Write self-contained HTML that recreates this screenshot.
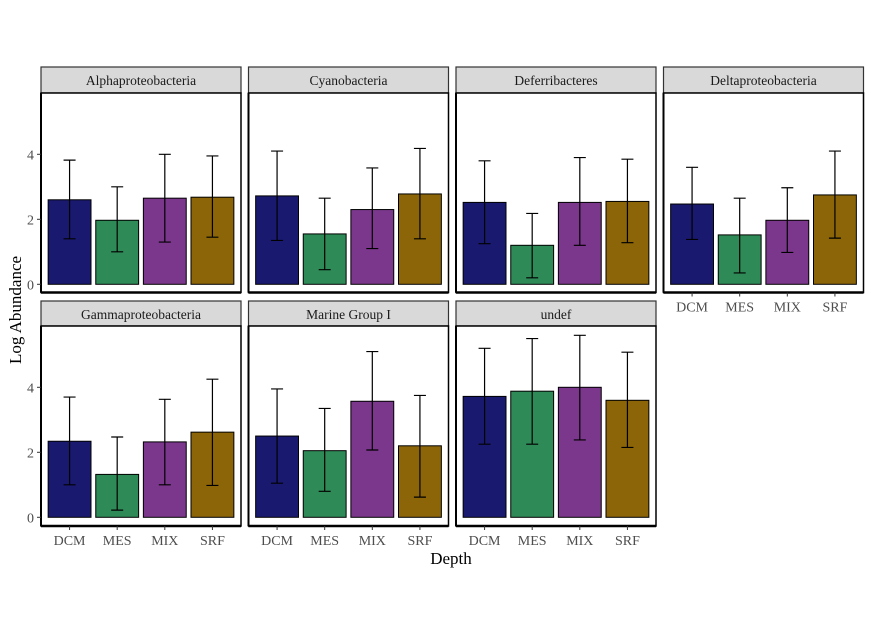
<!DOCTYPE html>
<html><head><meta charset="utf-8"><style>
body{margin:0;background:#fff}
svg{display:block;font-family:"Liberation Serif",serif}
</style></head><body>
<svg id="chart" width="871" height="635" xmlns="http://www.w3.org/2000/svg">
<rect width="871" height="635" fill="#fff"/>
<text x="0" y="0" transform="translate(21,310) rotate(-90)" text-anchor="middle" font-size="17">Log Abundance</text>
<text x="451" y="564" text-anchor="middle" font-size="17">Depth</text>
</svg>
<script>
const panels = ["Alphaproteobacteria","Cyanobacteria","Deferribacteres","Deltaproteobacteria","Gammaproteobacteria","Marine Group I","undef"];
const categories = ["DCM","MES","MIX","SRF"];
const means = [[2.6,1.97,2.65,2.68],[2.72,1.55,2.3,2.78],[2.52,1.2,2.52,2.55],[2.47,1.52,1.97,2.75],[2.34,1.32,2.32,2.62],[2.5,2.05,3.57,2.2],[3.72,3.88,4.0,3.6]];
const lows = [[1.4,1.0,1.3,1.45],[1.35,0.45,1.1,1.4],[1.25,0.2,1.2,1.28],[1.38,0.35,0.98,1.42],[1.0,0.22,1.0,0.98],[1.05,0.8,2.07,0.62],[2.25,2.25,2.38,2.15]];
const highs = [[3.82,3.0,4.0,3.95],[4.1,2.65,3.58,4.18],[3.8,2.18,3.9,3.85],[3.6,2.65,2.97,4.1],[3.7,2.47,3.63,4.25],[3.95,3.35,5.1,3.75],[5.2,5.5,5.6,5.08]];
const yTicks = [0,2,4];
const colors = ["#191970","#2E8B57","#7B378B","#8B6508"];
const svg = document.getElementById('chart');
const NS = "http://www.w3.org/2000/svg";
function mk(tag, attrs, parent){const e=document.createElementNS(NS,tag);for(const k in attrs)e.setAttribute(k,attrs[k]);(parent||svg).appendChild(e);return e;}
const PW=200, ux=PW/4.2, uy=32.5;
panels.forEach((name,p)=>{
  const col=p%4,row=Math.floor(p/4);
  const x0=41+col*207.5;
  const stripTop=row?301:67, top=row?326:93, zero=row?517.3:284.3, bottom=row?526:292.5;
  const sx=i=>x0+(i+0.6)*ux;
  const sy=v=>zero-v*uy;
  const g=mk('g',{});
  
  
  const st=mk('rect',{x:x0,y:stripTop,width:PW,height:top-stripTop,fill:'#d9d9d9',stroke:'#333','stroke-width':1.2},g);
  
  
  const stt=mk('text',{x:x0+PW/2,y:stripTop+18,'text-anchor':'middle','font-size':13.5,fill:'#1a1a1a'},g);
  stt.textContent=name;
  
  
  const bg=mk('rect',{x:x0,y:top,width:PW,height:bottom-top,fill:'#fff',stroke:'#000','stroke-width':1.5},g);
  
  
  mk('line',{x1:x0,y1:bottom,x2:x0+PW,y2:bottom,stroke:'#000','stroke-width':2.5},g);
  mk('line',{x1:x0,y1:top,x2:x0,y2:bottom,stroke:'#000','stroke-width':2},g);
  categories.forEach((c,i)=>{
    const cx=sx(i),w=0.9*ux;
    const b=mk('rect',{x:cx-w/2,y:sy(means[p][i]),width:w,height:sy(0)-sy(means[p][i]),fill:colors[i],stroke:'#000','stroke-width':1},g);
    
    
    const e=mk('path',{d:`M${cx-6},${sy(highs[p][i])}H${cx+6}M${cx},${sy(highs[p][i])}V${sy(lows[p][i])}M${cx-6},${sy(lows[p][i])}H${cx+6}`,stroke:'#000','stroke-width':1.2,fill:'none'},g);
    
    
    if(row===1||p===3){
      mk('line',{x1:cx,y1:bottom,x2:cx,y2:bottom+4,stroke:'#333'},g);
      const t=mk('text',{x:cx,y:bottom+19,'text-anchor':'middle','font-size':14,fill:'#4d4d4d'},g);
      t.textContent=c;
      
      
    }
  });
  if(col===0){
    yTicks.forEach(v=>{
      mk('line',{x1:x0-4,y1:sy(v),x2:x0,y2:sy(v),stroke:'#333'},g);
      const t=mk('text',{x:x0-7,y:sy(v)+5,'text-anchor':'end','font-size':14,fill:'#4d4d4d'},g);
      t.textContent=v;
      
      
    });
  }
});
</script>
</body></html>
